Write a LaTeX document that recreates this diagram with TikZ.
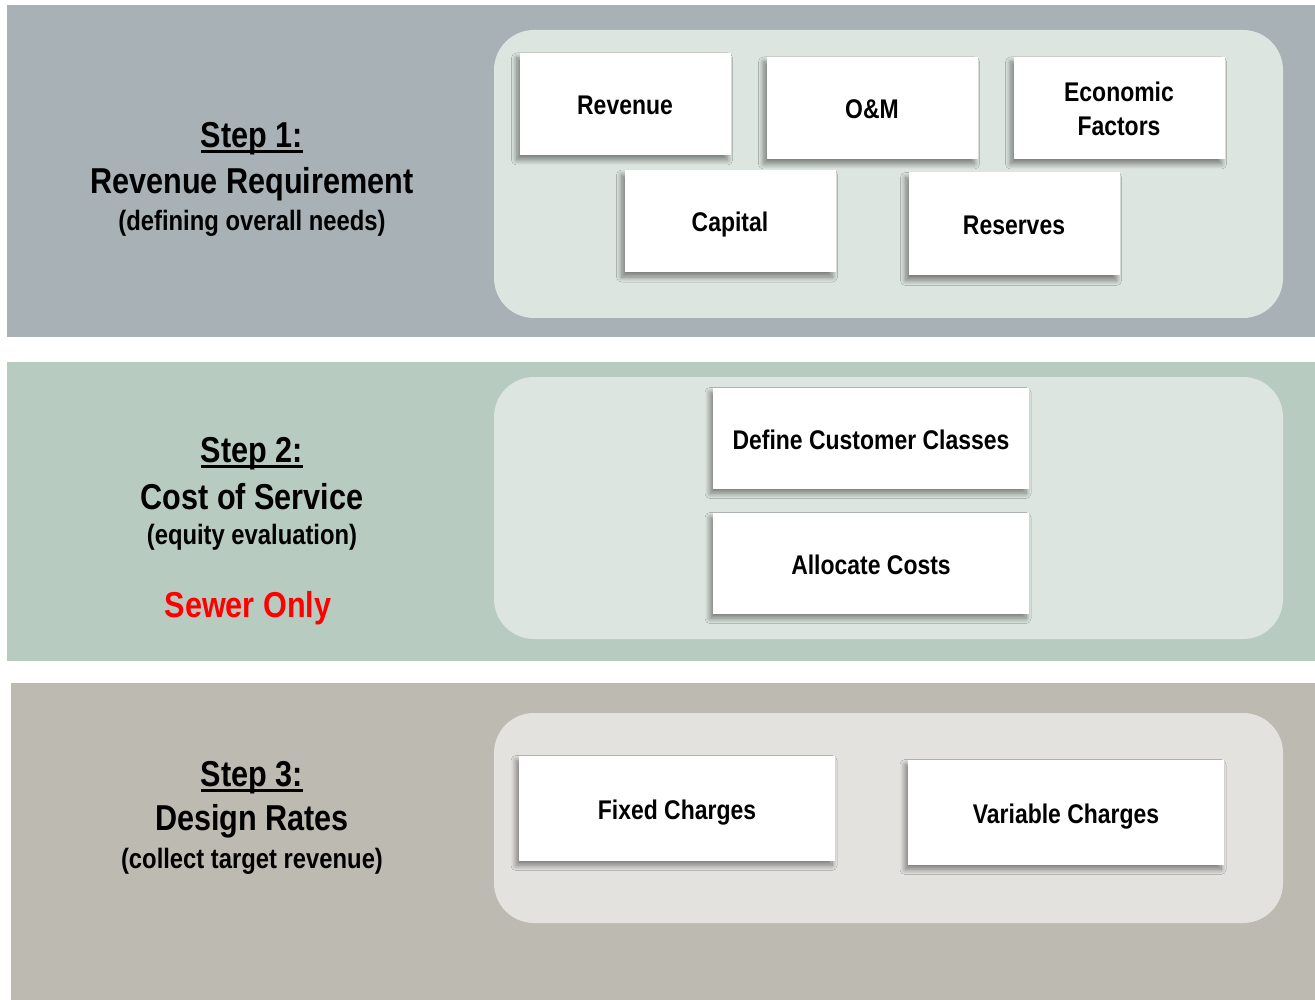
\documentclass[tikz,border=0pt]{standalone}
\usepackage{fontspec}
\setmainfont[FakeStretch=0.85]{Liberation Sans}
\usetikzlibrary{shadows.blur}
\definecolor{bandA}{HTML}{A7B1B6}
\definecolor{bandB}{HTML}{B7CBC0}
\definecolor{bandC}{HTML}{BDBAB2}
\definecolor{innerA}{HTML}{DDE5E0}
\definecolor{innerB}{HTML}{DDE5E0}
\definecolor{innerC}{HTML}{E3E2DF}
\definecolor{sewerred}{HTML}{FF0000}
\newcommand\stepul[1]{\setbox0\hbox{#1}\rlap{\rule[-0.13em]{\wd0}{0.07em}}\box0}
\tikzset{
  itembox/.style={fill=white, inner sep=0pt, align=center,
    text height=24pt, text depth=2pt,
    font=\bfseries\fontsize{27}{34}\selectfont,
    blur shadow={shadow xshift=-3pt, shadow yshift=-5pt, shadow blur radius=5pt, shadow blur steps=12, shadow opacity=45}},
  steptitle/.style={font=\bfseries\fontsize{36}{40}\selectfont, inner sep=0pt},
  stepsub/.style={font=\bfseries\fontsize{28}{32}\selectfont, inner sep=0pt},
  inner/.style={rounded corners=40pt}
}
\begin{document}
\begin{tikzpicture}[x=1pt,y=-1pt]
\fill[white] (0,0) rectangle (1315,1000);
\useasboundingbox (0,0) rectangle (1315,1000);
% bands
\fill[bandA] (7,5) rectangle (1315,337);
\fill[bandB] (7,362) rectangle (1315,661);
\fill[bandC] (11,683) rectangle (1315,1000);
% inner rounded panels
\fill[innerA,inner] (494,30) rectangle (1283,318);
\fill[innerB,inner] (494,377) rectangle (1283,639);
\fill[innerC,inner] (494,713) rectangle (1283,923);
% step labels
\node[steptitle] (s1a) at (252,139) {\stepul{Step 1:}};
\node[steptitle] (s1b) at (252,184) {Revenue Requirement};
\node[stepsub] (s1c) at (252,223) {(defining overall needs)};
\node[steptitle] (s2a) at (252,454) {\stepul{Step 2:}};
\node[steptitle] (s2b) at (252,497) {Cost of Service};
\node[stepsub] (s2c) at (252,537) {(equity evaluation)};
\node[steptitle, text=sewerred] (s2d) at (248,608) {Sewer Only};
\node[steptitle] (s3a) at (252,778) {\stepul{Step 3:}};
\node[steptitle] (s3b) at (252,821) {Design Rates};
\node[stepsub] (s3c) at (252,861) {(collect target revenue)};
% step 1 boxes
\node[itembox, minimum width=211pt, minimum height=102pt] (rev) at (625,104) {Revenue};
\node[itembox, minimum width=211pt, minimum height=102pt] (om) at (872,108) {O\&M};
\node[itembox, minimum width=211pt, minimum height=102pt, text height=58pt] (eco) at (1119,108) {Economic\\Factors};
\node[itembox, minimum width=211pt, minimum height=102pt] (cap) at (730,221) {Capital};
\node[itembox, minimum width=211pt, minimum height=103pt] (res) at (1014,224) {Reserves};
% step 2 boxes
\node[itembox, minimum width=316pt, minimum height=101pt] (dcc) at (871,438) {Define Customer Classes};
\node[itembox, minimum width=316pt, minimum height=101pt] (alc) at (871,563) {Allocate Costs};
% step 3 boxes
\node[itembox, minimum width=316pt, minimum height=105pt] (fix) at (677,808) {Fixed Charges};
\node[itembox, minimum width=316pt, minimum height=105pt] (var) at (1066,812) {Variable Charges};
\end{tikzpicture}
\end{document}
